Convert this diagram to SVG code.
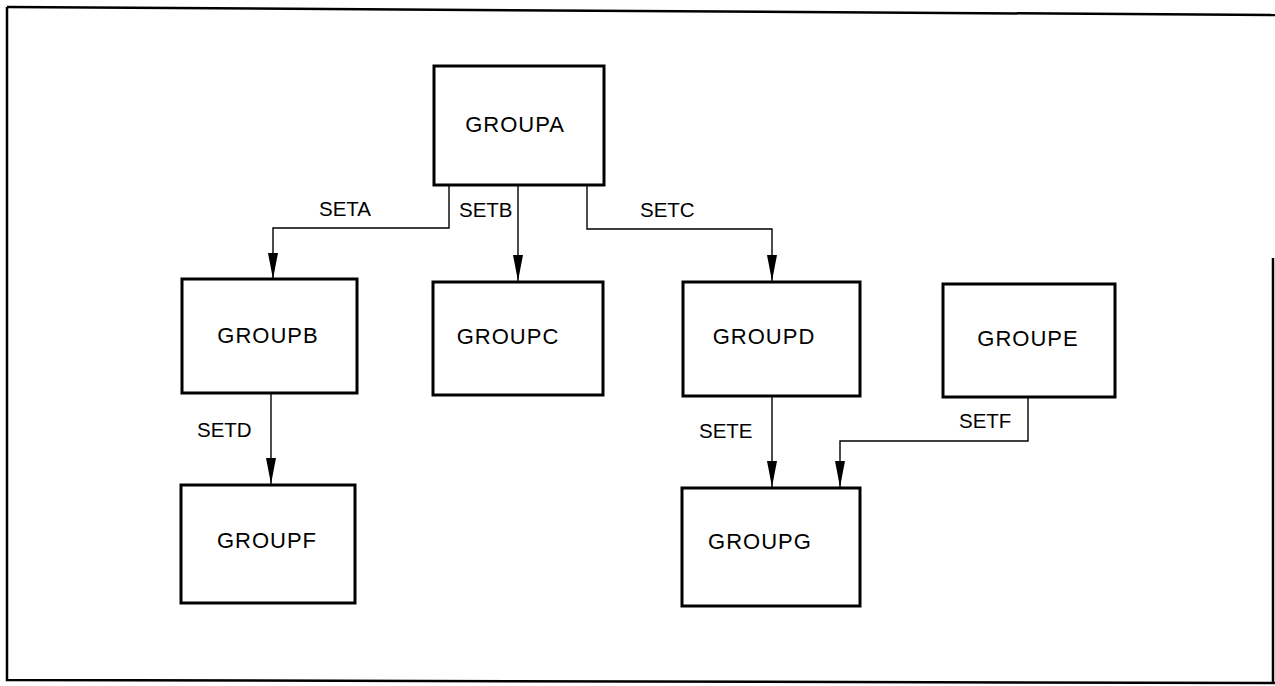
<svg xmlns="http://www.w3.org/2000/svg" width="1275" height="686" viewBox="0 0 1275 686">
<style>
.box{fill:#fff;stroke:#000;stroke-width:3}
.name{font-family:"Liberation Sans",Arial,sans-serif;font-size:22px;letter-spacing:1px;fill:#000;text-anchor:middle}
.lbl{font-family:"Liberation Sans",Arial,sans-serif;font-size:20.5px;fill:#000}
.wire{fill:none;stroke:#000;stroke-width:1.4}
.frame{fill:none;stroke:#000;stroke-width:2.5}
</style>
<defs>
<marker id="arr" markerUnits="userSpaceOnUse" markerWidth="30" markerHeight="14" viewBox="-27 -7 28 14" refX="0" refY="0" orient="auto">
<path d="M0,0 L-26,-5 L-26,5 Z" fill="#000"/>
</marker>
</defs>
<rect width="1275" height="686" fill="#fff"/>
<g id="frame">
<path class="frame" d="M7,7 L1275,15"/>
<path class="frame" d="M7,7 V680 L1275,683"/>
<path class="frame" d="M1273,258 V683"/>
</g>
<g id="connectors">
<path class="wire" d="M449,186 V228 H273 V279" marker-end="url(#arr)"/>
<path class="wire" d="M518,186 V281" marker-end="url(#arr)"/>
<path class="wire" d="M587,186 V229 H772 V281" marker-end="url(#arr)"/>
<path class="wire" d="M271,393 V484" marker-end="url(#arr)"/>
<path class="wire" d="M772,396 V487" marker-end="url(#arr)"/>
<path class="wire" d="M1028,397 V441 H840 V487" marker-end="url(#arr)"/>
<text class="lbl" x="319" y="216">SETA</text>
<text class="lbl" x="459" y="217">SETB</text>
<text class="lbl" x="640" y="217">SETC</text>
<text class="lbl" x="197" y="437">SETD</text>
<text class="lbl" x="699" y="438">SETE</text>
<text class="lbl" x="959" y="428">SETF</text>
</g>
<g id="GROUPA"><rect class="box" x="434" y="66" width="170" height="119"/><text class="name" x="515" y="132">GROUPA</text></g>
<g id="GROUPB"><rect class="box" x="182" y="279" width="175" height="114"/><text class="name" x="268" y="343">GROUPB</text></g>
<g id="GROUPC"><rect class="box" x="433" y="282" width="170" height="113"/><text class="name" x="508" y="344">GROUPC</text></g>
<g id="GROUPD"><rect class="box" x="683" y="282" width="177" height="114"/><text class="name" x="764" y="344">GROUPD</text></g>
<g id="GROUPE"><rect class="box" x="943" y="284" width="172" height="113"/><text class="name" x="1028" y="346">GROUPE</text></g>
<g id="GROUPF"><rect class="box" x="181" y="485" width="174" height="118"/><text class="name" x="267" y="548">GROUPF</text></g>
<g id="GROUPG"><rect class="box" x="682" y="488" width="178" height="118"/><text class="name" x="760" y="549">GROUPG</text></g>
</svg>
